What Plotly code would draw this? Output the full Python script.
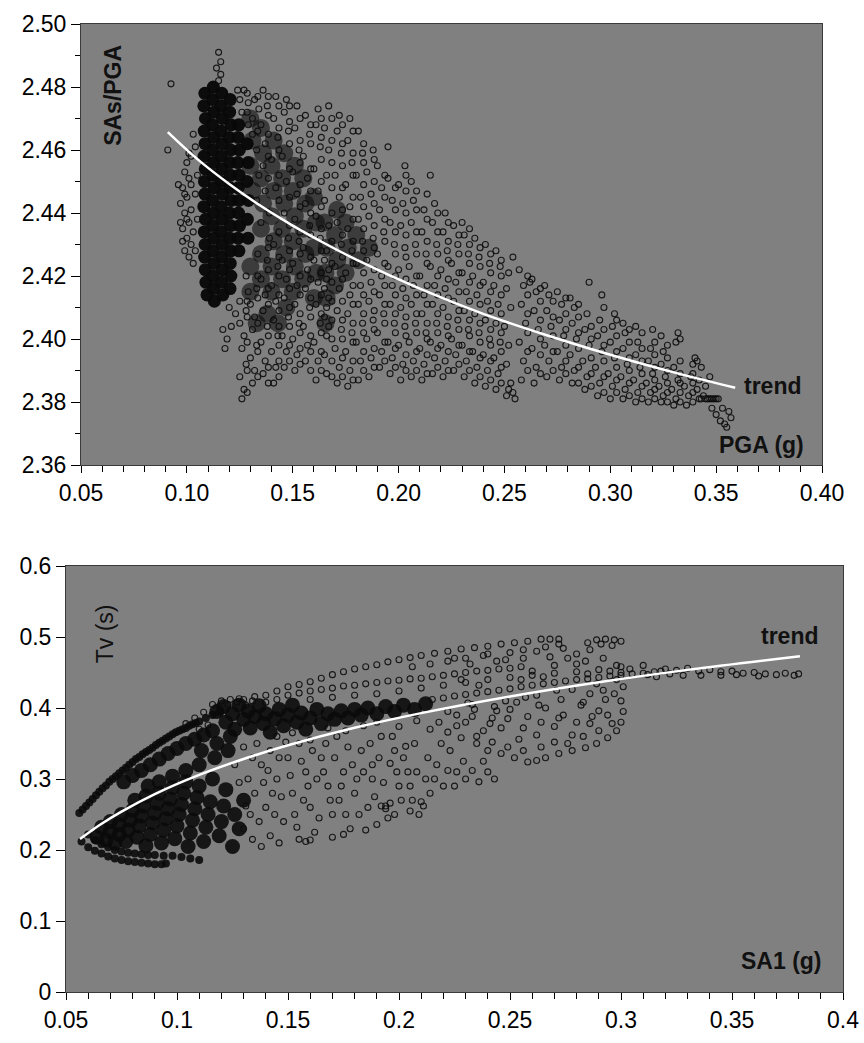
import plotly.graph_objects as go

# ---------------- data: top panel (SAs/PGA vs PGA) ----------------
top_x_ticks = [0.05, 0.10, 0.15, 0.20, 0.25, 0.30, 0.35, 0.40]
top_y_ticks = [2.36, 2.38, 2.40, 2.42, 2.44, 2.46, 2.48, 2.50]

top_trend_pga = [0.091, 0.105, 0.12, 0.135, 0.15, 0.165, 0.18, 0.21, 0.24, 0.27, 0.30, 0.33, 0.359]
top_trend_ratio = [2.4657, 2.4571, 2.4492, 2.4422, 2.4360, 2.4304, 2.4252, 2.4160, 2.4080, 2.4012, 2.3950, 2.3894, 2.3845]

# saturated core of the cloud
top_core = [
    (0.1085, 2.478), (0.1080, 2.474), (0.1088, 2.470), (0.1082, 2.466), (0.1086, 2.462), (0.1081, 2.458),
    (0.1087, 2.454), (0.1083, 2.450), (0.1085, 2.446), (0.1080, 2.442), (0.1088, 2.438), (0.1082, 2.434),
    (0.1086, 2.430), (0.1084, 2.426), (0.1087, 2.422), (0.1090, 2.418), (0.1095, 2.414),
    (0.1125, 2.480), (0.1122, 2.476), (0.1128, 2.472), (0.1121, 2.468), (0.1127, 2.464), (0.1123, 2.460),
    (0.1126, 2.456), (0.1124, 2.452), (0.1129, 2.448), (0.1122, 2.444), (0.1126, 2.440), (0.1123, 2.436),
    (0.1127, 2.432), (0.1125, 2.428), (0.1128, 2.424), (0.1124, 2.420), (0.1126, 2.416), (0.1130, 2.412),
    (0.1165, 2.478), (0.1162, 2.474), (0.1168, 2.470), (0.1161, 2.466), (0.1167, 2.462), (0.1163, 2.458),
    (0.1166, 2.454), (0.1164, 2.450), (0.1169, 2.446), (0.1162, 2.442), (0.1166, 2.438), (0.1163, 2.434),
    (0.1167, 2.430), (0.1165, 2.426), (0.1168, 2.422), (0.1164, 2.418), (0.1170, 2.414),
    (0.1205, 2.476), (0.1202, 2.472), (0.1208, 2.468), (0.1201, 2.464), (0.1207, 2.460), (0.1203, 2.456),
    (0.1206, 2.452), (0.1204, 2.448), (0.1209, 2.444), (0.1202, 2.440), (0.1206, 2.436), (0.1203, 2.432),
    (0.1207, 2.428), (0.1205, 2.424), (0.1208, 2.420), (0.1204, 2.416),
    (0.1245, 2.468), (0.1242, 2.464), (0.1248, 2.460), (0.1241, 2.456), (0.1247, 2.452), (0.1243, 2.448),
    (0.1246, 2.444), (0.1244, 2.440), (0.1249, 2.436), (0.1242, 2.432), (0.1246, 2.428),
    (0.1285, 2.462), (0.1290, 2.456), (0.1284, 2.450), (0.1291, 2.444), (0.1286, 2.438), (0.1289, 2.432),
]

# heavily overlapped (dark but not saturated) zone right of the core
top_shade = [
    (0.130, 2.415), (0.130, 2.423), (0.131, 2.447), (0.130, 2.455), (0.131, 2.463), (0.130, 2.470),
    (0.135, 2.419), (0.135, 2.427), (0.135, 2.435), (0.136, 2.443), (0.135, 2.451), (0.136, 2.459), (0.135, 2.467),
    (0.140, 2.415), (0.140, 2.423), (0.141, 2.431), (0.140, 2.439), (0.141, 2.447), (0.140, 2.455), (0.141, 2.463),
    (0.145, 2.419), (0.146, 2.427), (0.145, 2.435), (0.146, 2.443), (0.145, 2.451), (0.146, 2.459),
    (0.150, 2.415), (0.151, 2.423), (0.150, 2.431), (0.151, 2.439), (0.150, 2.447), (0.151, 2.455),
    (0.155, 2.419), (0.156, 2.427), (0.155, 2.435), (0.156, 2.443), (0.155, 2.451),
    (0.160, 2.413), (0.161, 2.421), (0.160, 2.429), (0.161, 2.437), (0.160, 2.445),
    (0.1655, 2.405), (0.166, 2.413), (0.1655, 2.421), (0.166, 2.429), (0.165, 2.437),
    (0.170, 2.417), (0.171, 2.425), (0.170, 2.433), (0.171, 2.441),
    (0.175, 2.421), (0.176, 2.429), (0.175, 2.437),
    (0.181, 2.425), (0.180, 2.433), (0.186, 2.429),
    (0.133, 2.405), (0.138, 2.408), (0.143, 2.405), (0.147, 2.410),
]

# thin strand left of the core, spike and isolated points
top_strand = [
    (0.103, 2.465), (0.104, 2.461), (0.102, 2.458), (0.100, 2.456), (0.099, 2.453), (0.101, 2.451),
    (0.098, 2.448), (0.100, 2.445), (0.097, 2.443), (0.099, 2.440), (0.101, 2.437), (0.098, 2.435),
    (0.100, 2.432), (0.102, 2.430), (0.099, 2.428), (0.101, 2.426), (0.103, 2.424), (0.104, 2.446),
    (0.105, 2.452), (0.105, 2.438), (0.096, 2.449), (0.103, 2.434), (0.104, 2.428), (0.097, 2.437),
    (0.099, 2.446), (0.102, 2.441), (0.100, 2.438), (0.098, 2.431), (0.101, 2.459), (0.102, 2.449),
    (0.115, 2.491), (0.116, 2.488), (0.114, 2.486), (0.116, 2.484), (0.115, 2.482),
    (0.0925, 2.481), (0.091, 2.460),
]

# the open-circle cloud
top_cloud = [
    (0.125, 2.476), (0.126, 2.472), (0.124, 2.479), (0.129, 2.468), (0.131, 2.465), (0.133, 2.460),
    (0.128, 2.420), (0.129, 2.415), (0.125, 2.412), (0.123, 2.408), (0.121, 2.404), (0.119, 2.400),
    (0.118, 2.397), (0.117, 2.403), (0.120, 2.410), (0.133, 2.444), (0.135, 2.437), (0.137, 2.447),
    (0.139, 2.440), (0.134, 2.452), (0.139, 2.432),
    (0.126, 2.381), (0.127, 2.384), (0.125, 2.388), (0.128, 2.392), (0.126, 2.397), (0.127, 2.401),
    (0.125, 2.405), (0.128, 2.409), (0.129, 2.475), (0.127, 2.479),
    (0.131, 2.386), (0.132, 2.390), (0.130, 2.394), (0.133, 2.398), (0.131, 2.403), (0.132, 2.407),
    (0.130, 2.411), (0.133, 2.416), (0.131, 2.470), (0.132, 2.476), (0.134, 2.473),
    (0.136, 2.389), (0.137, 2.393), (0.135, 2.399), (0.138, 2.404), (0.136, 2.409), (0.137, 2.414),
    (0.135, 2.419), (0.138, 2.425), (0.136, 2.455), (0.137, 2.462), (0.135, 2.468), (0.138, 2.474), (0.136, 2.479),
    (0.141, 2.386), (0.142, 2.391), (0.140, 2.396), (0.143, 2.401), (0.141, 2.406), (0.142, 2.412),
    (0.140, 2.417), (0.143, 2.423), (0.141, 2.430), (0.142, 2.448), (0.140, 2.457), (0.143, 2.464),
    (0.141, 2.470), (0.142, 2.477),
    (0.146, 2.391), (0.147, 2.396), (0.145, 2.401), (0.148, 2.407), (0.146, 2.413), (0.147, 2.419),
    (0.145, 2.425), (0.148, 2.432), (0.146, 2.440), (0.147, 2.450), (0.145, 2.458), (0.148, 2.466),
    (0.146, 2.472), (0.147, 2.476),
    (0.151, 2.390), (0.152, 2.395), (0.150, 2.400), (0.153, 2.405), (0.151, 2.411), (0.152, 2.417),
    (0.150, 2.424), (0.153, 2.431), (0.151, 2.438), (0.152, 2.446), (0.150, 2.453), (0.153, 2.460),
    (0.151, 2.467), (0.152, 2.474),
    (0.156, 2.393), (0.157, 2.398), (0.155, 2.404), (0.158, 2.410), (0.156, 2.416), (0.157, 2.422),
    (0.155, 2.429), (0.158, 2.436), (0.156, 2.443), (0.157, 2.451), (0.155, 2.458), (0.158, 2.465), (0.156, 2.471),
    (0.161, 2.387), (0.162, 2.393), (0.160, 2.399), (0.163, 2.405), (0.161, 2.411), (0.162, 2.418),
    (0.160, 2.425), (0.163, 2.432), (0.161, 2.439), (0.162, 2.447), (0.160, 2.454), (0.163, 2.461),
    (0.161, 2.468), (0.162, 2.473),
    (0.166, 2.401), (0.167, 2.404), (0.165, 2.407), (0.166, 2.410), (0.167, 2.413), (0.165, 2.416),
    (0.166, 2.419), (0.167, 2.422), (0.165, 2.425), (0.166, 2.428), (0.167, 2.436), (0.165, 2.444),
    (0.166, 2.452), (0.167, 2.460), (0.165, 2.467), (0.167, 2.474), (0.166, 2.389), (0.165, 2.395),
    (0.171, 2.386), (0.172, 2.391), (0.170, 2.397), (0.173, 2.403), (0.171, 2.409), (0.172, 2.416),
    (0.170, 2.423), (0.173, 2.430), (0.171, 2.437), (0.172, 2.445), (0.170, 2.452), (0.173, 2.459),
    (0.171, 2.466), (0.172, 2.471),
    (0.176, 2.385), (0.177, 2.390), (0.175, 2.396), (0.178, 2.402), (0.176, 2.408), (0.177, 2.414),
    (0.175, 2.421), (0.178, 2.428), (0.176, 2.435), (0.177, 2.442), (0.175, 2.449), (0.178, 2.456),
    (0.176, 2.463), (0.177, 2.470),
    (0.181, 2.387), (0.182, 2.393), (0.180, 2.399), (0.183, 2.405), (0.181, 2.411), (0.182, 2.417),
    (0.180, 2.424), (0.183, 2.431), (0.181, 2.438), (0.182, 2.445), (0.180, 2.452), (0.183, 2.459), (0.181, 2.466),
    (0.186, 2.388), (0.187, 2.394), (0.185, 2.400), (0.188, 2.406), (0.186, 2.412), (0.187, 2.418),
    (0.185, 2.425), (0.188, 2.432), (0.186, 2.439), (0.187, 2.446), (0.185, 2.453), (0.188, 2.460),
    (0.191, 2.391), (0.192, 2.396), (0.190, 2.402), (0.193, 2.408), (0.191, 2.414), (0.192, 2.420),
    (0.190, 2.427), (0.193, 2.434), (0.191, 2.441), (0.192, 2.448), (0.190, 2.455), (0.195, 2.461),
    (0.196, 2.389), (0.197, 2.394), (0.195, 2.399), (0.198, 2.405), (0.196, 2.411), (0.197, 2.417),
    (0.195, 2.423), (0.198, 2.430), (0.196, 2.437), (0.197, 2.444), (0.195, 2.451),
    (0.201, 2.387), (0.202, 2.392), (0.200, 2.398), (0.203, 2.404), (0.201, 2.410), (0.202, 2.416),
    (0.200, 2.422), (0.203, 2.429), (0.201, 2.436), (0.202, 2.443), (0.200, 2.449), (0.203, 2.455),
    (0.206, 2.388), (0.207, 2.393), (0.205, 2.399), (0.208, 2.405), (0.206, 2.411), (0.207, 2.417),
    (0.205, 2.423), (0.208, 2.430), (0.206, 2.437), (0.207, 2.444), (0.206, 2.450),
    (0.211, 2.387), (0.212, 2.392), (0.210, 2.397), (0.213, 2.402), (0.211, 2.408), (0.212, 2.414),
    (0.210, 2.420), (0.213, 2.427), (0.211, 2.434), (0.212, 2.441), (0.215, 2.452),
    (0.216, 2.389), (0.217, 2.394), (0.215, 2.399), (0.218, 2.405), (0.216, 2.411), (0.217, 2.417),
    (0.215, 2.423), (0.218, 2.430), (0.216, 2.437), (0.217, 2.443),
    (0.221, 2.388), (0.222, 2.393), (0.220, 2.398), (0.223, 2.404), (0.221, 2.410), (0.222, 2.416),
    (0.220, 2.422), (0.223, 2.428), (0.221, 2.434), (0.222, 2.440),
    (0.226, 2.390), (0.227, 2.395), (0.225, 2.400), (0.228, 2.406), (0.226, 2.412), (0.227, 2.418),
    (0.225, 2.424), (0.228, 2.430), (0.226, 2.436),
    (0.231, 2.388), (0.232, 2.393), (0.230, 2.398), (0.233, 2.403), (0.231, 2.409), (0.232, 2.415),
    (0.230, 2.421), (0.233, 2.427), (0.231, 2.433), (0.230, 2.437),
    (0.236, 2.386), (0.237, 2.391), (0.235, 2.396), (0.238, 2.402), (0.236, 2.408), (0.237, 2.414),
    (0.235, 2.420), (0.238, 2.426), (0.236, 2.432),
    (0.241, 2.385), (0.242, 2.390), (0.240, 2.395), (0.243, 2.400), (0.241, 2.406), (0.242, 2.412),
    (0.240, 2.418), (0.243, 2.424), (0.241, 2.430),
    (0.246, 2.384), (0.247, 2.389), (0.245, 2.394), (0.248, 2.399), (0.246, 2.405), (0.247, 2.411),
    (0.245, 2.417), (0.248, 2.423), (0.246, 2.428),
    (0.251, 2.382), (0.252, 2.384), (0.253, 2.386), (0.254, 2.383), (0.255, 2.381), (0.251, 2.392),
    (0.252, 2.398), (0.250, 2.404), (0.253, 2.410), (0.251, 2.416), (0.252, 2.421), (0.254, 2.426),
    (0.258, 2.387), (0.259, 2.393), (0.257, 2.399), (0.260, 2.405), (0.258, 2.411), (0.259, 2.417),
    (0.257, 2.422), (0.262, 2.418),
    (0.264, 2.386), (0.265, 2.391), (0.263, 2.397), (0.266, 2.403), (0.264, 2.409), (0.265, 2.415), (0.263, 2.419),
    (0.270, 2.388), (0.271, 2.393), (0.269, 2.398), (0.272, 2.404), (0.270, 2.409), (0.271, 2.414), (0.269, 2.417),
    (0.276, 2.387), (0.277, 2.391), (0.275, 2.396), (0.278, 2.401), (0.276, 2.406), (0.277, 2.411), (0.275, 2.415),
    (0.282, 2.386), (0.283, 2.390), (0.281, 2.395), (0.284, 2.400), (0.282, 2.405), (0.283, 2.410), (0.281, 2.413),
    (0.288, 2.384), (0.289, 2.388), (0.287, 2.393), (0.290, 2.398), (0.288, 2.403), (0.289, 2.408), (0.290, 2.418),
    (0.294, 2.382), (0.295, 2.386), (0.293, 2.391), (0.296, 2.396), (0.294, 2.401), (0.296, 2.414), (0.295, 2.406),
    (0.300, 2.381), (0.301, 2.385), (0.299, 2.389), (0.302, 2.394), (0.300, 2.399), (0.301, 2.404), (0.302, 2.408),
    (0.306, 2.381), (0.307, 2.384), (0.305, 2.388), (0.308, 2.392), (0.306, 2.397), (0.307, 2.402), (0.306, 2.405),
    (0.312, 2.380), (0.313, 2.383), (0.311, 2.387), (0.314, 2.391), (0.312, 2.395), (0.313, 2.399), (0.312, 2.404),
    (0.318, 2.380), (0.319, 2.383), (0.317, 2.386), (0.320, 2.389), (0.318, 2.393), (0.319, 2.397), (0.320, 2.403),
    (0.324, 2.380), (0.325, 2.382), (0.323, 2.385), (0.326, 2.388), (0.324, 2.392), (0.325, 2.396), (0.324, 2.401),
    (0.330, 2.379), (0.331, 2.381), (0.329, 2.384), (0.332, 2.387), (0.330, 2.391), (0.331, 2.399), (0.332, 2.402),
    (0.336, 2.379), (0.337, 2.382), (0.335, 2.385), (0.338, 2.388), (0.339, 2.392), (0.340, 2.394),
    (0.342, 2.381), (0.343, 2.381), (0.344, 2.382), (0.345, 2.381), (0.341, 2.384), (0.342, 2.387),
    (0.343, 2.391), (0.341, 2.393),
    (0.346, 2.381), (0.347, 2.381), (0.348, 2.381), (0.349, 2.381), (0.350, 2.381), (0.351, 2.381),
    (0.348, 2.378), (0.350, 2.376), (0.352, 2.374), (0.354, 2.373), (0.356, 2.377), (0.357, 2.375),
    (0.353, 2.378), (0.355, 2.372), (0.345, 2.385), (0.347, 2.388),
]

# second layer of the cloud, listed by PGA column: (PGA, [SAs/PGA values])
top_cloud2_cols = [
    (0.1285, [2.383, 2.390, 2.399, 2.407, 2.412, 2.472, 2.478]),
    (0.1335, [2.388, 2.396, 2.405, 2.413, 2.420, 2.427, 2.466, 2.477]),
    (0.1385, [2.386, 2.391, 2.401, 2.411, 2.416, 2.422, 2.429, 2.451, 2.458, 2.465, 2.471, 2.477]),
    (0.1435, [2.388, 2.393, 2.398, 2.404, 2.409, 2.414, 2.420, 2.426, 2.434, 2.444, 2.452, 2.460, 2.467, 2.474]),
    (0.1485, [2.393, 2.398, 2.404, 2.410, 2.416, 2.422, 2.428, 2.436, 2.445, 2.454, 2.462, 2.469, 2.474]),
    (0.1535, [2.392, 2.397, 2.402, 2.408, 2.414, 2.420, 2.427, 2.434, 2.442, 2.449, 2.456, 2.463, 2.470]),
    (0.1585, [2.390, 2.396, 2.401, 2.407, 2.413, 2.419, 2.426, 2.433, 2.440, 2.447, 2.454, 2.462, 2.468]),
    (0.1635, [2.390, 2.396, 2.402, 2.408, 2.414, 2.421, 2.428, 2.435, 2.442, 2.450, 2.457, 2.464, 2.470]),
    (0.1685, [2.388, 2.393, 2.400, 2.406, 2.412, 2.418, 2.424, 2.431, 2.440, 2.448, 2.456, 2.463, 2.470]),
    (0.1735, [2.388, 2.394, 2.400, 2.406, 2.412, 2.419, 2.426, 2.433, 2.441, 2.448, 2.455, 2.462, 2.468]),
    (0.1785, [2.387, 2.393, 2.399, 2.405, 2.411, 2.417, 2.424, 2.431, 2.438, 2.445, 2.452, 2.459, 2.466]),
    (0.1835, [2.390, 2.396, 2.402, 2.408, 2.414, 2.421, 2.428, 2.435, 2.442, 2.449, 2.456, 2.462]),
    (0.1885, [2.391, 2.397, 2.403, 2.409, 2.415, 2.422, 2.429, 2.436, 2.443, 2.450, 2.457]),
    (0.1935, [2.393, 2.399, 2.405, 2.411, 2.417, 2.424, 2.431, 2.438, 2.445, 2.452]),
    (0.1985, [2.391, 2.397, 2.402, 2.408, 2.414, 2.420, 2.427, 2.434, 2.441, 2.448]),
    (0.2035, [2.390, 2.395, 2.401, 2.407, 2.413, 2.419, 2.426, 2.433, 2.440, 2.447, 2.452]),
    (0.2085, [2.390, 2.396, 2.402, 2.408, 2.414, 2.420, 2.427, 2.434, 2.441, 2.447]),
    (0.2135, [2.389, 2.395, 2.400, 2.405, 2.411, 2.417, 2.424, 2.431, 2.438, 2.446]),
    (0.2185, [2.391, 2.397, 2.402, 2.408, 2.414, 2.420, 2.427, 2.434, 2.440]),
    (0.2235, [2.390, 2.396, 2.401, 2.407, 2.413, 2.419, 2.425, 2.431, 2.437]),
    (0.2285, [2.392, 2.398, 2.403, 2.409, 2.415, 2.421, 2.427, 2.433]),
    (0.2335, [2.390, 2.396, 2.401, 2.406, 2.412, 2.418, 2.424, 2.430, 2.435]),
    (0.2385, [2.388, 2.394, 2.399, 2.405, 2.411, 2.417, 2.423, 2.429]),
    (0.2435, [2.387, 2.393, 2.398, 2.403, 2.409, 2.415, 2.421, 2.427]),
    (0.2485, [2.386, 2.391, 2.396, 2.402, 2.408, 2.414, 2.420, 2.425]),
    (0.261, [2.390, 2.396, 2.402, 2.408, 2.414, 2.420]),
    (0.267, [2.389, 2.395, 2.400, 2.406, 2.412, 2.416]),
    (0.273, [2.390, 2.396, 2.401, 2.407, 2.412]),
    (0.279, [2.389, 2.393, 2.398, 2.403, 2.408, 2.413]),
    (0.285, [2.386, 2.391, 2.397, 2.402, 2.407, 2.411]),
    (0.291, [2.385, 2.389, 2.394, 2.400, 2.404]),
    (0.297, [2.383, 2.388, 2.393, 2.398, 2.403, 2.410]),
    (0.303, [2.383, 2.387, 2.391, 2.396, 2.401, 2.406]),
    (0.309, [2.382, 2.386, 2.390, 2.394, 2.399, 2.403]),
    (0.315, [2.381, 2.385, 2.389, 2.393, 2.397, 2.402]),
    (0.321, [2.381, 2.384, 2.387, 2.391, 2.395, 2.399]),
    (0.327, [2.380, 2.383, 2.386, 2.390, 2.394, 2.398]),
    (0.333, [2.380, 2.383, 2.386, 2.389, 2.393, 2.400]),
    (0.339, [2.380, 2.383, 2.386, 2.389]),
]

# ---------------- data: bottom panel (Tv vs SA1) ----------------
bot_x_ticks = [0.05, 0.1, 0.15, 0.2, 0.25, 0.3, 0.35, 0.4]
bot_y_ticks = [0, 0.1, 0.2, 0.3, 0.4, 0.5, 0.6]

bot_trend_sa1 = [0.0563, 0.065, 0.075, 0.09, 0.11, 0.13, 0.15, 0.18, 0.21, 0.25, 0.29, 0.33, 0.3806]
bot_trend_tv = [0.2155, 0.2349, 0.2541, 0.2787, 0.3057, 0.3282, 0.3475, 0.3721, 0.3928, 0.4163, 0.4363, 0.4537, 0.4730]

# upper thin strand and bottom hook (saturated)
bot_strand = [
    (0.056, 0.252), (0.0575, 0.257), (0.059, 0.262), (0.0605, 0.267), (0.062, 0.272), (0.0635, 0.277),
    (0.065, 0.282), (0.0665, 0.287), (0.068, 0.291), (0.0695, 0.296), (0.071, 0.300), (0.0725, 0.304),
    (0.074, 0.308), (0.0755, 0.312), (0.077, 0.316), (0.0785, 0.320), (0.080, 0.324), (0.0815, 0.328),
    (0.083, 0.331), (0.0845, 0.335), (0.086, 0.338), (0.0875, 0.341), (0.089, 0.344), (0.0905, 0.348),
    (0.092, 0.351), (0.0935, 0.354), (0.095, 0.357), (0.0965, 0.360), (0.098, 0.363), (0.0995, 0.366),
    (0.101, 0.368), (0.1025, 0.370), (0.104, 0.372), (0.1055, 0.375), (0.107, 0.377), (0.1085, 0.379),
    (0.110, 0.381), (0.113, 0.386), (0.116, 0.390), (0.119, 0.394),
    (0.057, 0.212), (0.060, 0.204), (0.063, 0.199), (0.066, 0.195), (0.069, 0.191), (0.072, 0.188),
    (0.075, 0.186), (0.078, 0.184), (0.081, 0.183), (0.084, 0.182), (0.087, 0.181), (0.090, 0.180),
    (0.093, 0.180), (0.095, 0.181),
    (0.060, 0.222), (0.063, 0.214), (0.066, 0.208), (0.069, 0.204), (0.072, 0.200), (0.075, 0.198),
    (0.078, 0.196), (0.081, 0.195), (0.084, 0.194), (0.087, 0.193), (0.090, 0.193), (0.094, 0.192),
    (0.098, 0.192), (0.102, 0.190), (0.106, 0.188), (0.110, 0.186),
]

# saturated mass under the trend and the 0.4 band
bot_dense = [
    (0.064, 0.218), (0.066, 0.232), (0.068, 0.214), (0.070, 0.226), (0.070, 0.240), (0.072, 0.210),
    (0.074, 0.222), (0.074, 0.236), (0.075, 0.250), (0.077, 0.212), (0.078, 0.228), (0.079, 0.242),
    (0.080, 0.256), (0.081, 0.270), (0.082, 0.218), (0.083, 0.234), (0.084, 0.248), (0.085, 0.262),
    (0.086, 0.276), (0.086, 0.206), (0.087, 0.290), (0.088, 0.222), (0.089, 0.238), (0.090, 0.252),
    (0.091, 0.266), (0.092, 0.280), (0.092, 0.296), (0.093, 0.210), (0.094, 0.228), (0.095, 0.244),
    (0.096, 0.258), (0.097, 0.272), (0.098, 0.288), (0.098, 0.304), (0.099, 0.216), (0.100, 0.234),
    (0.101, 0.250), (0.102, 0.264), (0.103, 0.280), (0.104, 0.296), (0.104, 0.312), (0.105, 0.205),
    (0.106, 0.224), (0.107, 0.242), (0.108, 0.258), (0.109, 0.274), (0.110, 0.290), (0.110, 0.320),
    (0.111, 0.340), (0.112, 0.212), (0.113, 0.232), (0.114, 0.250), (0.115, 0.268), (0.116, 0.300),
    (0.117, 0.330), (0.118, 0.350), (0.119, 0.220), (0.120, 0.240), (0.121, 0.262), (0.122, 0.285),
    (0.123, 0.340), (0.124, 0.360), (0.125, 0.205), (0.126, 0.250), (0.128, 0.230), (0.130, 0.270),
    (0.076, 0.296), (0.080, 0.305), (0.084, 0.312), (0.088, 0.320), (0.092, 0.328), (0.096, 0.336),
    (0.100, 0.343), (0.104, 0.350), (0.108, 0.356), (0.112, 0.362), (0.116, 0.368),
    (0.118, 0.395), (0.121, 0.402), (0.122, 0.380), (0.125, 0.392), (0.126, 0.370), (0.128, 0.404),
    (0.130, 0.384), (0.132, 0.396), (0.133, 0.372), (0.135, 0.388), (0.137, 0.403), (0.139, 0.378),
    (0.140, 0.392), (0.142, 0.366), (0.144, 0.385), (0.146, 0.398), (0.148, 0.375), (0.150, 0.390),
    (0.152, 0.404), (0.154, 0.380), (0.156, 0.393), (0.158, 0.370), (0.160, 0.386), (0.163, 0.398),
    (0.165, 0.378), (0.168, 0.392), (0.171, 0.384), (0.174, 0.396), (0.177, 0.386), (0.180, 0.398),
    (0.183, 0.390), (0.186, 0.400), (0.190, 0.392), (0.194, 0.402), (0.198, 0.395), (0.202, 0.404),
    (0.207, 0.398), (0.212, 0.406),
]

bot_cloud = [
    (0.140, 0.418), (0.145, 0.424), (0.150, 0.430), (0.155, 0.433), (0.160, 0.437), (0.165, 0.442),
    (0.170, 0.447), (0.175, 0.451), (0.180, 0.455), (0.185, 0.458), (0.190, 0.461), (0.195, 0.465),
    (0.200, 0.468), (0.205, 0.471), (0.210, 0.474), (0.216, 0.477), (0.222, 0.480), (0.228, 0.483),
    (0.234, 0.485), (0.240, 0.487), (0.246, 0.490), (0.252, 0.492), (0.258, 0.494), (0.264, 0.497),
    (0.268, 0.497), (0.272, 0.497), (0.289, 0.496), (0.293, 0.497), (0.297, 0.496), (0.300, 0.494),
    (0.291, 0.490), (0.296, 0.488),
    (0.130, 0.412), (0.135, 0.416), (0.140, 0.408), (0.145, 0.412), (0.150, 0.418), (0.155, 0.421),
    (0.160, 0.424), (0.165, 0.426), (0.170, 0.428), (0.175, 0.431), (0.180, 0.432), (0.185, 0.434),
    (0.190, 0.436), (0.195, 0.438), (0.200, 0.439), (0.205, 0.441), (0.210, 0.442), (0.215, 0.444),
    (0.220, 0.446), (0.225, 0.448), (0.230, 0.450), (0.235, 0.452), (0.240, 0.453), (0.245, 0.455),
    (0.250, 0.456), (0.255, 0.458),
    (0.215, 0.412), (0.220, 0.414), (0.225, 0.417), (0.230, 0.419), (0.235, 0.421), (0.240, 0.423),
    (0.245, 0.425), (0.250, 0.427), (0.255, 0.430), (0.260, 0.432), (0.265, 0.434), (0.270, 0.436),
    (0.275, 0.438), (0.280, 0.440), (0.285, 0.441), (0.290, 0.443), (0.295, 0.445), (0.300, 0.446),
    (0.305, 0.448), (0.310, 0.449), (0.315, 0.451),
    (0.320, 0.455), (0.325, 0.453), (0.330, 0.456), (0.335, 0.452), (0.340, 0.454), (0.345, 0.451),
    (0.350, 0.452), (0.355, 0.449), (0.360, 0.450), (0.365, 0.448), (0.370, 0.447), (0.374, 0.449),
    (0.378, 0.446), (0.380, 0.448), (0.322, 0.448), (0.328, 0.446), (0.336, 0.446), (0.345, 0.446),
    (0.352, 0.447), (0.362, 0.445),
    (0.225, 0.470), (0.232, 0.462), (0.238, 0.474), (0.244, 0.466), (0.250, 0.478), (0.256, 0.470),
    (0.262, 0.480), (0.268, 0.472), (0.274, 0.484), (0.280, 0.476), (0.286, 0.482), (0.292, 0.470),
    (0.298, 0.460), (0.300, 0.450), (0.301, 0.430), (0.300, 0.410), (0.301, 0.395), (0.300, 0.380),
    (0.298, 0.368), (0.294, 0.358), (0.289, 0.350), (0.284, 0.344), (0.278, 0.340), (0.272, 0.336),
    (0.266, 0.330), (0.262, 0.326), (0.258, 0.324), (0.252, 0.330), (0.246, 0.336), (0.240, 0.340),
    (0.235, 0.350), (0.228, 0.358), (0.222, 0.366), (0.218, 0.380), (0.226, 0.390), (0.234, 0.398),
    (0.242, 0.386), (0.250, 0.398), (0.258, 0.388), (0.266, 0.400), (0.274, 0.390), (0.282, 0.404),
    (0.290, 0.396), (0.262, 0.362), (0.270, 0.374), (0.278, 0.362), (0.286, 0.378), (0.254, 0.356),
    (0.246, 0.372), (0.238, 0.368), (0.230, 0.380), (0.222, 0.395), (0.286, 0.420), (0.278, 0.426),
    (0.262, 0.418), (0.248, 0.410), (0.236, 0.432), (0.228, 0.440), (0.292, 0.425), (0.298, 0.440),
    (0.260, 0.452), (0.270, 0.460), (0.280, 0.462),
    (0.132, 0.300), (0.135, 0.280), (0.138, 0.320), (0.140, 0.260), (0.142, 0.340), (0.145, 0.300),
    (0.148, 0.240), (0.150, 0.330), (0.152, 0.280), (0.155, 0.350), (0.158, 0.310), (0.160, 0.260),
    (0.162, 0.225), (0.165, 0.330), (0.168, 0.290), (0.170, 0.250), (0.172, 0.360), (0.175, 0.310),
    (0.178, 0.230), (0.180, 0.280), (0.183, 0.340), (0.186, 0.260), (0.188, 0.300), (0.190, 0.236),
    (0.192, 0.360), (0.194, 0.262), (0.196, 0.322), (0.198, 0.250), (0.200, 0.290), (0.203, 0.346),
    (0.206, 0.270), (0.208, 0.310), (0.211, 0.262), (0.213, 0.330), (0.216, 0.300), (0.219, 0.350),
    (0.222, 0.312), (0.225, 0.290), (0.230, 0.300), (0.236, 0.296), (0.240, 0.310), (0.130, 0.230),
    (0.134, 0.215), (0.138, 0.205), (0.142, 0.220), (0.146, 0.210), (0.155, 0.215), (0.158, 0.212),
    (0.160, 0.214), (0.170, 0.218), (0.175, 0.222), (0.185, 0.228), (0.192, 0.262), (0.194, 0.258),
    (0.196, 0.266), (0.205, 0.255), (0.210, 0.268), (0.145, 0.360), (0.152, 0.365), (0.160, 0.355),
    (0.168, 0.372), (0.176, 0.368), (0.184, 0.375), (0.190, 0.380), (0.200, 0.374), (0.208, 0.382),
    (0.214, 0.370), (0.136, 0.350), (0.130, 0.345), (0.126, 0.320), (0.128, 0.295), (0.133, 0.250),
    (0.143, 0.280), (0.153, 0.250), (0.163, 0.300), (0.173, 0.270), (0.182, 0.250), (0.188, 0.320),
    (0.198, 0.340), (0.204, 0.310),
    (0.104, 0.378), (0.108, 0.386), (0.112, 0.394), (0.116, 0.405), (0.120, 0.410), (0.124, 0.412),
    (0.128, 0.413), (0.110, 0.370), (0.114, 0.376),
    (0.131, 0.262), (0.134, 0.330), (0.137, 0.240), (0.139, 0.295), (0.141, 0.312), (0.144, 0.250),
    (0.146, 0.330), (0.147, 0.275), (0.149, 0.352), (0.151, 0.305), (0.154, 0.232), (0.156, 0.325),
    (0.157, 0.270), (0.159, 0.290), (0.161, 0.340), (0.164, 0.245), (0.166, 0.310), (0.167, 0.350),
    (0.169, 0.270), (0.171, 0.330), (0.174, 0.290), (0.176, 0.250), (0.177, 0.345), (0.179, 0.320),
    (0.181, 0.300), (0.184, 0.310), (0.187, 0.350), (0.189, 0.275), (0.191, 0.330), (0.193, 0.295),
    (0.195, 0.245), (0.197, 0.360), (0.199, 0.310), (0.201, 0.270), (0.202, 0.330), (0.205, 0.290),
    (0.207, 0.350), (0.209, 0.250), (0.212, 0.300), (0.214, 0.280), (0.217, 0.320), (0.220, 0.290),
    (0.223, 0.340), (0.226, 0.310), (0.229, 0.325), (0.233, 0.312), (0.238, 0.325), (0.243, 0.300),
    (0.160, 0.412), (0.170, 0.415), (0.180, 0.418), (0.190, 0.420), (0.200, 0.424), (0.210, 0.428),
    (0.220, 0.432), (0.230, 0.436), (0.240, 0.440), (0.250, 0.443), (0.260, 0.446), (0.270, 0.449),
    (0.280, 0.451), (0.290, 0.454), (0.300, 0.458), (0.310, 0.460), (0.206, 0.458), (0.214, 0.462),
    (0.222, 0.466), (0.230, 0.470), (0.240, 0.476), (0.248, 0.468), (0.256, 0.482), (0.266, 0.486),
    (0.276, 0.470), (0.284, 0.466), (0.272, 0.490), (0.285, 0.492), (0.255, 0.440), (0.265, 0.444),
    (0.285, 0.448), (0.295, 0.452), (0.304, 0.455), (0.312, 0.447), (0.318, 0.452), (0.316, 0.444),
    (0.233, 0.405), (0.243, 0.402), (0.253, 0.408), (0.263, 0.404), (0.273, 0.412), (0.283, 0.408),
    (0.293, 0.412), (0.297, 0.420), (0.289, 0.434), (0.271, 0.425), (0.257, 0.415), (0.244, 0.396),
    (0.231, 0.407),
    (0.235, 0.360), (0.242, 0.352), (0.249, 0.345), (0.256, 0.340), (0.264, 0.345), (0.270, 0.352),
    (0.276, 0.350), (0.283, 0.360), (0.290, 0.368), (0.296, 0.378), (0.294, 0.390), (0.287, 0.388),
    (0.280, 0.380), (0.272, 0.386), (0.264, 0.380), (0.256, 0.372), (0.249, 0.385), (0.241, 0.378),
    (0.233, 0.388), (0.226, 0.375),
    (0.123, 0.405), (0.127, 0.408), (0.131, 0.404), (0.134, 0.410),
]

# ---------------- styles ----------------
FONT = "Liberation Sans, Arial, sans-serif"
BG = "#808080"
OPEN = dict(symbol="circle-open", size=6, color="rgba(12,12,12,0.9)", line=dict(width=1.1))


def xs(pts):
    return [p[0] for p in pts]


def ys(pts):
    return [p[1] for p in pts]


top_cloud2 = [(c, v) for c, vals in top_cloud2_cols for v in vals]

fig = go.Figure()

# top panel
fig.add_trace(go.Scatter(x=xs(top_shade), y=ys(top_shade), mode="markers",
                         marker=dict(symbol="circle", size=18, color="rgba(10,10,10,0.58)", line=dict(width=0)),
                         xaxis="x", yaxis="y", showlegend=False, hoverinfo="skip"))
fig.add_trace(go.Scatter(x=xs(top_core), y=ys(top_core), mode="markers",
                         marker=dict(symbol="circle", size=13, color="rgba(8,8,8,0.97)", line=dict(width=0)),
                         xaxis="x", yaxis="y", showlegend=False, hoverinfo="skip"))
top_open = top_strand + top_cloud + top_cloud2
fig.add_trace(go.Scatter(x=xs(top_open), y=ys(top_open), mode="markers", marker=OPEN,
                         xaxis="x", yaxis="y", showlegend=False))
fig.add_trace(go.Scatter(x=top_trend_pga, y=top_trend_ratio, mode="lines", line_shape="spline",
                         line=dict(color="white", width=2.5), xaxis="x", yaxis="y", showlegend=False))

# bottom panel
fig.add_trace(go.Scatter(x=xs(bot_dense), y=ys(bot_dense), mode="markers",
                         marker=dict(symbol="circle", size=15, color="rgba(10,10,10,0.9)", line=dict(width=0)),
                         xaxis="x2", yaxis="y2", showlegend=False, hoverinfo="skip"))
fig.add_trace(go.Scatter(x=xs(bot_strand), y=ys(bot_strand), mode="markers",
                         marker=dict(symbol="circle", size=8, color="rgba(10,10,10,0.9)", line=dict(width=0)),
                         xaxis="x2", yaxis="y2", showlegend=False, hoverinfo="skip"))
fig.add_trace(go.Scatter(x=xs(bot_cloud), y=ys(bot_cloud), mode="markers", marker=OPEN,
                         xaxis="x2", yaxis="y2", showlegend=False))
fig.add_trace(go.Scatter(x=bot_trend_sa1, y=bot_trend_tv, mode="lines", line_shape="spline",
                         line=dict(color="white", width=2.5), xaxis="x2", yaxis="y2", showlegend=False))

tickfont = dict(family=FONT, size=23, color="black")
common = dict(showgrid=False, zeroline=False, showline=True, linecolor="#3a3a3a", linewidth=1,
              mirror=True, ticks="outside", tickcolor="black", tickfont=tickfont, automargin=False)

fig.update_layout(
    width=864, height=1043,
    margin=dict(l=0, r=0, t=0, b=0, autoexpand=False),
    paper_bgcolor="white", plot_bgcolor=BG,
    font=dict(family=FONT, color="black"),
    xaxis=dict(domain=[81 / 864, 822 / 864], anchor="y", range=[0.05, 0.40], tickvals=top_x_ticks,
               tickformat=".2f", ticklen=7,
               minor=dict(dtick=0.01, tick0=0.05, ticks="outside", ticklen=6, tickcolor="black", showgrid=False),
               **common),
    yaxis=dict(domain=[1 - 465 / 1043, 1 - 24 / 1043], anchor="x", range=[2.36, 2.50], tickvals=top_y_ticks,
               tickformat=".2f", ticklen=9,
               minor=dict(dtick=0.01, tick0=2.36, ticks="outside", ticklen=5, tickcolor="black", showgrid=False),
               **common),
    xaxis2=dict(domain=[66 / 864, 843 / 864], anchor="y2", range=[0.05, 0.40], tickvals=bot_x_ticks,
                ticktext=[str(v) for v in bot_x_ticks], ticklen=7,
                minor=dict(dtick=0.01, tick0=0.05, ticks="outside", ticklen=6, tickcolor="black", showgrid=False),
                **common),
    yaxis2=dict(domain=[1 - 992 / 1043, 1 - 566 / 1043], anchor="x2", range=[0, 0.6], tickvals=bot_y_ticks,
                ticktext=[str(v) for v in bot_y_ticks], ticklen=9, **common),
)

ann_font = dict(family=FONT, size=23, color="#111111")
fig.add_annotation(x=0.0651, y=2.4775, xref="x", yref="y", text="<b>SAs/PGA</b>", textangle=-90,
                   showarrow=False, font=ann_font)
fig.add_annotation(x=0.3769, y=2.3851, xref="x", yref="y", text="<b>trend</b>", showarrow=False, font=ann_font)
fig.add_annotation(x=0.3712, y=2.3665, xref="x", yref="y", text="<b>PGA (g)</b>", showarrow=False, font=ann_font)
fig.add_annotation(x=0.0676, y=0.504, xref="x2", yref="y2", text="Tv (s)", textangle=-90,
                   showarrow=False, font=ann_font)
fig.add_annotation(x=0.3761, y=0.5014, xref="x2", yref="y2", text="<b>trend</b>", showarrow=False, font=ann_font)
fig.add_annotation(x=0.3721, y=0.0437, xref="x2", yref="y2", text="<b>SA1 (g)</b>", showarrow=False, font=ann_font)

fig.write_html("out.html", config={"displayModeBar": False},
               post_script="document.body.style.margin='0';document.body.style.overflow='hidden';")
